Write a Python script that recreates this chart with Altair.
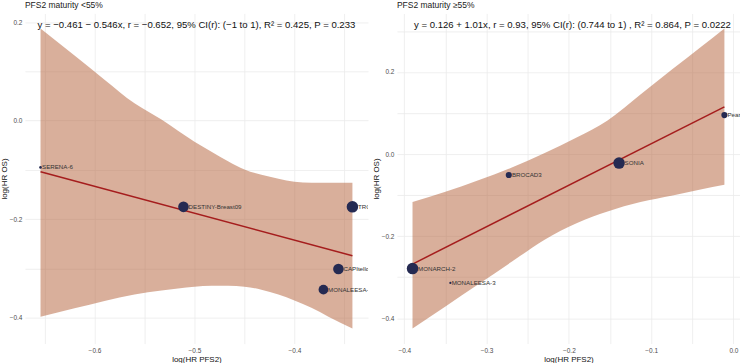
import altair as alt
import pandas as pd

# ---- trials with PFS2 maturity < 55% ----
left_trials = ["SERENA-6", "DESTINY-Breast09", "TROPiCS-02", "CAPItello-291", "MONALEESA-7"]
left_log_hr_pfs2 = [-0.654, -0.511, -0.342, -0.356, -0.371]
left_log_hr_os = [-0.095, -0.175, -0.175, -0.301, -0.343]
left_weight = [7, 113, 133, 113, 95]
left_intercept, left_slope = -0.461, -0.546
left_stats = "y = −0.461 − 0.546x, r = −0.652, 95% CI(r): (−1 to 1), R² = 0.425, P = 0.233"

# 95% confidence band of the fit
left_band_x = [-0.654, -0.62, -0.59, -0.56, -0.533, -0.5, -0.483, -0.466, -0.45,
               -0.433, -0.416, -0.4, -0.383, -0.366, -0.342]
left_band_hi = [0.187, 0.132, 0.083, 0.035, 0.002, -0.043, -0.063, -0.083, -0.099,
                -0.110, -0.118, -0.124, -0.126, -0.126, -0.126]
left_band_lo = [-0.398, -0.381, -0.366, -0.353, -0.345, -0.337, -0.335, -0.335, -0.337,
                -0.343, -0.353, -0.365, -0.380, -0.398, -0.422]

# ---- trials with PFS2 maturity >= 55% ----
right_trials = ["Pearl", "BROCAD3", "SONIA", "MONARCH-2", "MONALEESA-3"]
right_log_hr_pfs2 = [-0.011, -0.273, -0.139, -0.390, -0.344]
right_log_hr_os = [0.095, -0.051, -0.022, -0.279, -0.314]
right_weight = [38, 38, 133, 133, 5]
right_intercept, right_slope = 0.126, 1.01
right_stats = "y = 0.126 + 1.01x, r = 0.93, 95% CI(r): (0.744 to 1) , R² = 0.864, P = 0.0222"

right_band_x = [-0.390, -0.35, -0.31, -0.27, -0.23, -0.19, -0.153, -0.113, -0.074, -0.040, -0.011]
right_band_hi = [-0.117, -0.092, -0.064, -0.033, 0.002, 0.041, 0.082, 0.145, 0.207, 0.260, 0.306]
right_band_lo = [-0.425, -0.371, -0.317, -0.263, -0.209, -0.168, -0.140, -0.117, -0.101, -0.086, -0.075]

W, H = 344, 331
FONT = "Liberation Sans"


def expanded(values, frac=0.05):
    lo, hi = min(values), max(values)
    pad = (hi - lo) * frac
    return [lo - pad, hi + pad]


def grid_values(lo, hi, step):
    out = []
    k = int(lo / step) - 1
    while k * step <= hi + 1e-9:
        v = round(k * step, 4)
        if lo <= v <= hi:
            out.append(v)
        k += 1
    return out


def panel(title, trials, xs, ys, weights, band_x, band_lo, band_hi, b0, b1, stats, note_x):
    xdom = expanded(list(band_x) + list(xs))
    ydom = expanded(list(band_lo) + list(band_hi) + list(ys))
    x_per_px = (xdom[1] - xdom[0]) / W

    xaxis = alt.Axis(
        values=grid_values(xdom[0], xdom[1], 0.05),
        labelExpr="abs(round(datum.value*10) - datum.value*10) < 1e-6 ? format(datum.value, '.1f') : ''",
        title="log(HR PFS2)",
    )
    yaxis = alt.Axis(
        values=grid_values(ydom[0], ydom[1], 0.1),
        labelExpr="abs(round(datum.value*5) - datum.value*5) < 1e-6 ? format(datum.value, '.1f') : ''",
        title="log(HR OS)",
    )
    xsc = alt.Scale(domain=xdom, nice=False, zero=False)
    ysc = alt.Scale(domain=ydom, nice=False, zero=False)

    band_df = pd.DataFrame({"x": band_x, "lo": band_lo, "hi": band_hi})
    band = alt.Chart(band_df).mark_area(
        color="#b35f38", opacity=0.5, interpolate="monotone"
    ).encode(
        x=alt.X("x:Q", scale=xsc, axis=xaxis),
        y=alt.Y("lo:Q", scale=ysc, axis=yaxis),
        y2="hi:Q",
    )

    x_ends = [min(xs), max(xs)]
    fit_df = pd.DataFrame({"x": x_ends, "y": [b0 + b1 * v for v in x_ends]})
    fit = alt.Chart(fit_df).mark_line(color="#a51d1d", strokeWidth=1.5).encode(
        x=alt.X("x:Q", scale=xsc),
        y=alt.Y("y:Q", scale=ysc),
    )

    pts_df = pd.DataFrame({"trial": trials, "x": xs, "y": ys, "w": weights})
    # labels start at the right edge of each dot
    pts_df["lx"] = pts_df["x"] + ((pts_df["w"] / 3.14159) ** 0.5 * 0.8 + 0.3) * x_per_px
    points = alt.Chart(pts_df).mark_circle(color="#252a52", opacity=1).encode(
        x=alt.X("x:Q", scale=xsc),
        y=alt.Y("y:Q", scale=ysc),
        size=alt.Size("w:Q", scale=alt.Scale(domain=[0, 140], range=[0, 140]), legend=None),
    )
    labels = alt.Chart(pts_df).mark_text(
        align="left", baseline="middle", fontSize=6.2, color="#333333", font=FONT, clip=True
    ).encode(
        x=alt.X("lx:Q", scale=xsc),
        y=alt.Y("y:Q", scale=ysc),
        text="trial:N",
    )

    # fit statistics, near the top of the panel
    note = alt.Chart(pd.DataFrame({"t": [stats]})).mark_text(
        align="center", baseline="middle", fontSize=9.6, color="#111111", font=FONT
    ).encode(x=alt.value(note_x), y=alt.value(12), text="t:N")

    return alt.layer(band, fit, points, labels, note).properties(
        width=W,
        height=H,
        title=alt.TitleParams(
            title, anchor="start", frame="group", fontSize=8.5, fontWeight="normal",
            offset=4, color="#1a1a1a", font=FONT,
        ),
    )


left = panel("PFS2 maturity <55%", left_trials, left_log_hr_pfs2, left_log_hr_os, left_weight,
             left_band_x, left_band_lo, left_band_hi, left_intercept, left_slope, left_stats,
             W / 2)
right = panel("PFS2 maturity ≥55%", right_trials, right_log_hr_pfs2, right_log_hr_os, right_weight,
              right_band_x, right_band_lo, right_band_hi, right_intercept, right_slope, right_stats,
              W / 2 + 4)

chart = alt.hconcat(left, right, spacing=4).properties(padding=0).configure(
    font=FONT
).configure_view(stroke=None).configure_axis(
    domain=False, ticks=False, grid=True, gridColor="#ebebeb", gridWidth=0.8,
    labelFontSize=6.5, labelColor="#4d4d4d", labelFont=FONT,
    titleFontSize=8, titleFontWeight="normal", titleColor="#111111", titleFont=FONT,
).configure_axisX(titlePadding=1, labelPadding=4).configure_axisY(titlePadding=1, labelPadding=3)

chart.save("out.html", embed_options={"renderer": "svg", "actions": False})
